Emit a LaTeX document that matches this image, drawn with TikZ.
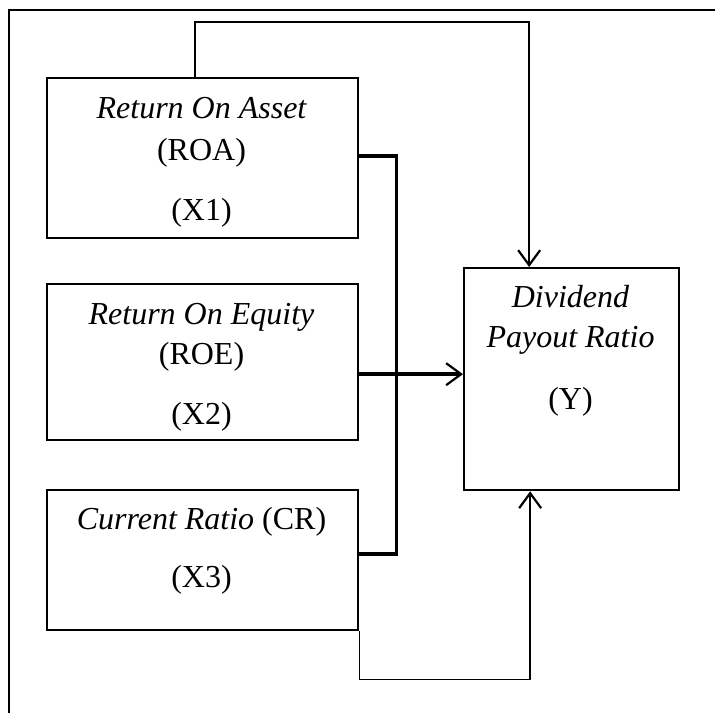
\documentclass[tikz,border=0pt]{standalone}
\usepackage{fontspec}
\setmainfont{Liberation Serif}
\usetikzlibrary{arrows.meta}
\begin{document}
\begin{tikzpicture}[x=1pt,y=-1pt,
  varbox/.style={draw,line width=2.3pt,rectangle,inner sep=0pt,anchor=north west},
  lbl/.style={anchor=base,inner sep=0pt,font=\fontsize{32}{38}\selectfont},
  thinline/.style={line width=1.5pt},
  busline/.style={line width=3.4pt},
  tip/.style={-{Straight Barb[length=15pt,width=22pt,line width=2.2pt]}}]
\useasboundingbox (0,0) rectangle (715,713);
% outer cell border (top and left only)
\coordinate (ctl) at (9,10);
\coordinate (ctr) at (715,10);
\coordinate (cbl) at (9,713);
\draw[line width=2.3pt] (ctr) -- (ctl) -- (cbl);
% boxes
\node[varbox,minimum width=311pt,minimum height=160pt] (b1) at (46,77) {};
\node[varbox,minimum width=311pt,minimum height=156pt] (b2) at (46,283) {};
\node[varbox,minimum width=311pt,minimum height=140pt] (b3) at (46,489) {};
\node[varbox,minimum width=215pt,minimum height=222pt] (Y) at (463,267) {};
% labels
\node[lbl] (t1a) at (201.5,118) {\itshape Return On Asset};
\node[lbl] (t1b) at (201.5,160) {(ROA)};
\node[lbl] (t1c) at (201.5,220) {(X1)};
\node[lbl] (t2a) at (201.5,324) {\itshape Return On Equity};
\node[lbl] (t2b) at (201.5,364) {(ROE)};
\node[lbl] (t2c) at (201.5,424) {(X2)};
\node[lbl] (t3a) at (201.5,529) {\textit{Current Ratio} (CR)};
\node[lbl] (t3b) at (201.5,587) {(X3)};
\node[lbl] (tya) at (570.5,307) {\itshape Dividend};
\node[lbl] (tyb) at (570.5,347) {\itshape Payout Ratio};
\node[lbl] (tyc) at (570.5,409) {(Y)};
% bus from X1 and X3
\draw[busline] ([yshift=2pt]b1.east) -- ++(37,0) coordinate (bt) -- ([xshift=37pt,yshift=6pt]b3.east) -- ([yshift=6pt]b3.east);
% X2 arrow
\draw[busline,tip] ([yshift=-12pt]b2.east) -- ([yshift=-12pt]b2.east -| Y.west);
% top connector
\draw[thinline,tip] ([xshift=-7.5pt]b1.north) -- ++(0,-55) -| ([xshift=-42.5pt]Y.north);
% bottom connector
\draw[thinline,tip] (b3.south east) -- ++(0,48) -| ([xshift=-41.5pt]Y.south);
\end{tikzpicture}
\end{document}
